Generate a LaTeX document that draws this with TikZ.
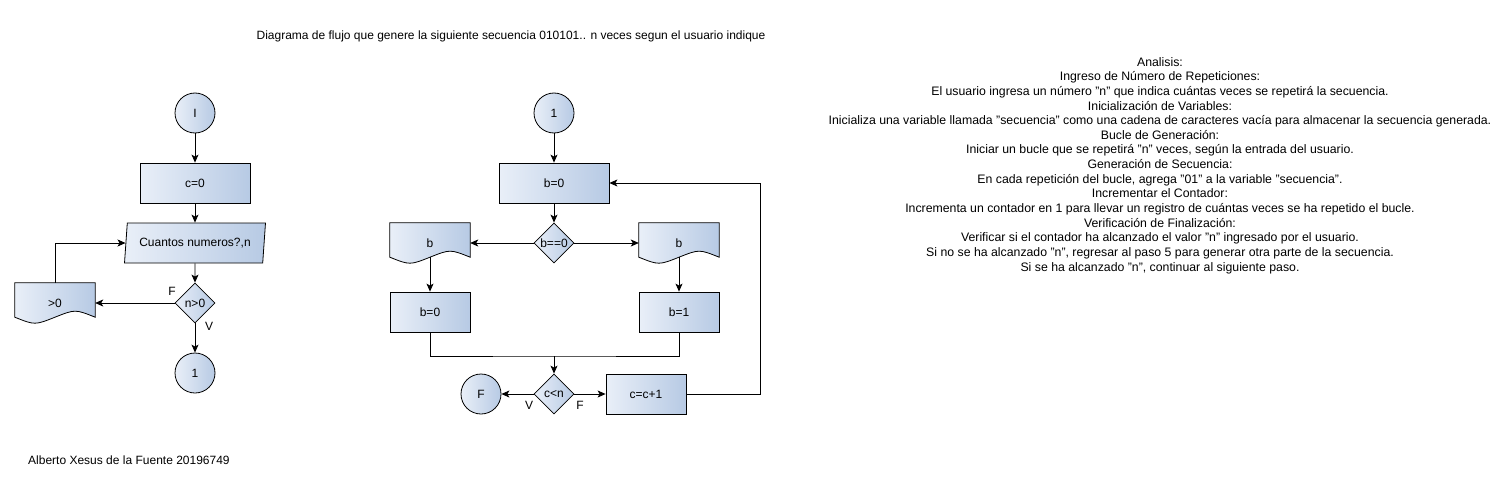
\documentclass[tikz,border=0pt]{standalone}
\usepackage{fontspec}
\setmainfont{Liberation Sans}
\usetikzlibrary{arrows.meta,positioning,shapes.geometric,backgrounds}
\definecolor{shadeL}{HTML}{E9EFF8}
\definecolor{shadeR}{HTML}{B7CAE4}
\tikzset{
	>={Stealth[length=8pt,width=7pt,inset=2pt]}, % draw.io like heads
	flow/.style={->, line width=0.8pt},
	link/.style={line width=0.8pt},
	blue fill/.style={draw, line width=0.8pt, left color=shadeL, right color=shadeR},
	terminal/.style={circle, blue fill, minimum size=40pt, inner sep=0pt, font=\fontsize{12}{14}\selectfont},
	process/.style={rectangle, blue fill, minimum width=80pt, minimum height=40pt, inner sep=0pt, font=\fontsize{12}{14}\selectfont},
	decision/.style={diamond, aspect=1, blue fill, minimum width=40pt, minimum height=40pt, inner sep=0pt, font=\fontsize{12}{14}\selectfont},
	inputbox/.style={trapezium, trapezium left angle=77, trapezium right angle=103, trapezium stretches=true, blue fill, minimum width=141pt, minimum height=40pt, inner sep=0pt, font=\fontsize{12}{14}\selectfont},
	docnode/.style={rectangle, minimum width=80pt, minimum height=40pt, inner sep=0pt, font=\fontsize{12}{14}\selectfont},
	lbl/.style={font=\fontsize{12}{14}\selectfont, inner sep=0pt},
	note/.style={font=\fontsize{12}{14.64}\selectfont, align=center, inner sep=0pt},
	longnote/.style={font=\fontsize{12.3}{14.64}\selectfont, align=center, inner sep=0pt},
}
% document shape drawn behind a docnode
\newcommand{\docoutline}[1]{%
	\begin{pgfonlayer}{background}
		\path[blue fill] (#1.north west) -- (#1.north east) -- ([yshift=6pt]#1.south east)
			.. controls ([xshift=-20pt,yshift=14pt]#1.south east) .. ([yshift=6pt]#1.south)
			.. controls ([xshift=20pt,yshift=-2pt]#1.south west) .. ([yshift=6pt]#1.south west) -- cycle;
	\end{pgfonlayer}}

\begin{document}
\begin{tikzpicture}[x=1pt, y=-1pt, on grid]
	\useasboundingbox (0,0) rectangle (1505,495);

	\node[note] (title) at (511,36) {Diagrama de flujo que genere la siguiente secuencia 010101.. n veces segun el usuario indique};

	% lectura de n
	\node[terminal] (I) at (195,113) {I};
	\node[process, minimum width=110pt, below=70pt of I] (c0) {c=0};
	\node[inputbox, below=60pt of c0] (ask) {Cuantos numeros?,n};
	\node[decision, below=60pt of ask] (npos) {n>0};
	\node[terminal, below=70pt of npos] (one) {1};
	\node[docnode, left=140pt of npos] (gtz) {>0};
	\docoutline{gtz}

	\draw[flow] (I) -- (c0);
	\draw[flow] (c0) -- (ask);
	\draw[flow] (ask) -- (npos);
	\draw[flow] (npos) -- (one);
	\draw[flow] (npos) -- (gtz);
	\draw[flow] (gtz.north) |- (ask.west);
	\node[lbl] (fa) at (172,291) {F};
	\node[lbl] (va) at (209,326) {V};

	% secuencia
	\node[terminal] (one2) at (554,113) {1};
	\node[process, minimum width=110pt, below=70pt of one2] (b0) {b=0};
	\node[decision, below=60pt of b0] (beq) {b==0};
	\node[docnode, left=124pt of beq] (docL) {b};
	\node[docnode, right=125pt of beq] (docR) {b};
	\docoutline{docL}
	\docoutline{docR}
	\node[process, below=69pt of docL] (bL) {b=0};
	\node[process, below=69pt of docR] (bR) {b=1};
	\node[decision, below=151pt of beq] (cn) {c<n};
	\node[terminal, left=73pt of cn] (fin) {F};
	\node[process, right=92pt of cn] (inc) {c=c+1};
	\coordinate (join) at (554,356);
	\coordinate (back) at (760,394);

	\draw[flow] (one2) -- (b0);
	\draw[flow] (b0) -- (beq);
	\draw[flow] (beq) -- (docL);
	\draw[flow] (beq) -- (docR);
	\draw[flow] ([yshift=6pt]docL.south) -- (bL);
	\draw[flow] ([yshift=6pt]docR.south) -- (bR);
	\draw[link] (bL.south) |- (join) -| (bR.south);
	\draw[flow] (join) -- (cn);
	\draw[flow] (cn) -- (fin);
	\draw[flow] (cn) -- (inc);
	\draw[flow] (inc) -- (back) |- (b0);
	\node[lbl] (vb) at (529,405) {V};
	\node[lbl] (fb) at (580,405) {F};

	% analisis
	\node[longnote, anchor=north] (analisis) at (1160,57) {Analisis:\\
		Ingreso de Número de Repeticiones:\\
		El usuario ingresa un número "n" que indica cuántas veces se repetirá la secuencia.\\
		Inicialización de Variables:\\
		Inicializa una variable llamada "secuencia" como una cadena de caracteres vacía para almacenar la secuencia generada.\\
		Bucle de Generación:\\
		Iniciar un bucle que se repetirá "n" veces, según la entrada del usuario.\\
		Generación de Secuencia:\\
		En cada repetición del bucle, agrega "01" a la variable "secuencia".\\
		Incrementar el Contador:\\
		Incrementa un contador en 1 para llevar un registro de cuántas veces se ha repetido el bucle.\\
		Verificación de Finalización:\\
		Verificar si el contador ha alcanzado el valor "n" ingresado por el usuario.\\
		Si no se ha alcanzado "n", regresar al paso 5 para generar otra parte de la secuencia.\\
		Si se ha alcanzado "n", continuar al siguiente paso.};

	\node[note, anchor=west] (autor) at (28,460) {Alberto Xesus de la Fuente 20196749};
\end{tikzpicture}
\end{document}
